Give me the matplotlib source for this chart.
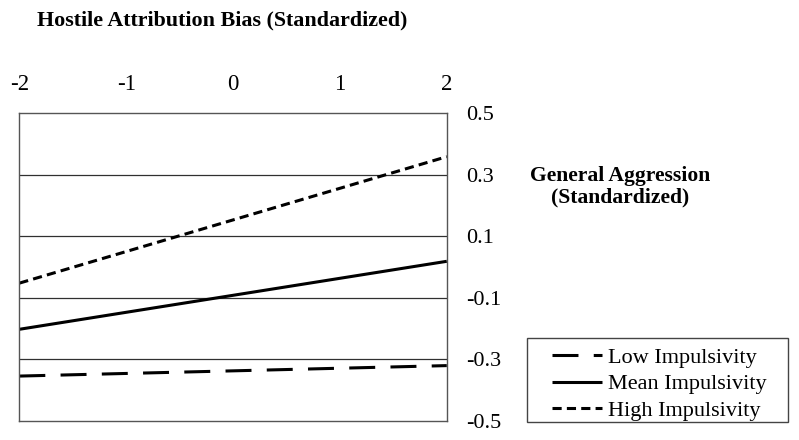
import matplotlib.pyplot as plt
from matplotlib.patches import Rectangle

plt.rcParams['font.family'] = ['Liberation Serif', 'DejaVu Serif']
plt.rcParams['axes.unicode_minus'] = False

# data
hab = [-2, 2]
low_impulsivity = [-0.354, -0.320]
mean_impulsivity = [-0.202, 0.019]
high_impulsivity = [-0.052, 0.359]

x_ticks = [-2, -1, 0, 1, 2]
y_ticks = [0.5, 0.3, 0.1, -0.1, -0.3, -0.5]
y_grid = [0.3, 0.1, -0.1, -0.3]
series_labels = ['Low Impulsivity', 'Mean Impulsivity', 'High Impulsivity']

fig = plt.figure(figsize=(7.99, 4.40), dpi=100)
ax = fig.add_axes([0.0242, 0.0432, 0.535, 0.6993])

lw = 2.2
h_low, = ax.plot(hab, low_impulsivity, color='black', lw=lw, dashes=(8.5, 5.0),
                 solid_capstyle='butt', dash_capstyle='butt')
h_mean, = ax.plot(hab, mean_impulsivity, color='black', lw=lw, solid_capstyle='butt')
h_high, = ax.plot(hab, high_impulsivity, color='black', lw=lw, dashes=(3.0, 1.7),
                  dash_capstyle='butt')

for g in y_grid:
    ax.axhline(g, color='#303030', lw=0.9, zorder=1)

ax.set_xlim(-2, 2)
ax.set_ylim(-0.5, 0.5)
ax.xaxis.tick_top()
ax.yaxis.tick_right()
ax.set_xticks(x_ticks)
ax.set_xticklabels([str(v) for v in x_ticks])
ax.set_yticks(y_ticks)
ax.set_yticklabels(['{:.1f}'.format(v) for v in y_ticks])
ax.tick_params(axis='x', length=0, pad=13, labelsize=16.5)
ax.tick_params(axis='y', length=0, pad=14, labelsize=16)
for s in ax.spines.values():
    s.set_color('#555555')
    s.set_linewidth(1.0)

fig.text(222 / 799, 1 - 20 / 440, 'Hostile Attribution Bias (Standardized)',
         ha='center', va='center', fontsize=15.8, fontweight='bold')
fig.text(620 / 799, 1 - 187 / 440, 'General Aggression\n(Standardized)',
         ha='center', va='center', fontsize=15.6, fontweight='bold',
         multialignment='center', linespacing=1.1)

leg = fig.legend([h_low, h_mean, h_high], series_labels, loc='upper left',
                 bbox_to_anchor=(552 / 799, 1 - 347 / 440), frameon=False,
                 fontsize=16, handlelength=2.25, handletextpad=0.25,
                 labelspacing=0.28, borderpad=0, borderaxespad=0)
fig.patches.append(Rectangle((527 / 799, 1 - 422 / 440), 261 / 799, 84 / 440,
                             transform=fig.transFigure, fill=False,
                             edgecolor='#444444', lw=1.0))

fig.savefig('out.png', dpi=100)
